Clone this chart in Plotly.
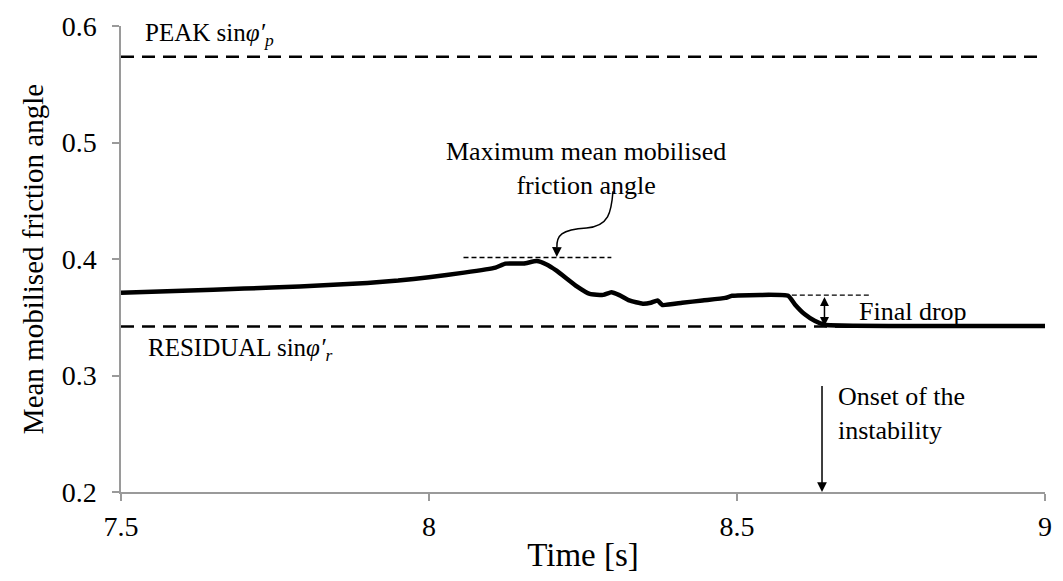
import plotly.graph_objects as go

# Mean mobilised friction angle (sin phi') over time
time_s = [7.50, 7.60, 7.70, 7.79, 7.90, 7.95, 8.00, 8.057, 8.108, 8.124, 8.154,
          8.175, 8.19, 8.207, 8.24, 8.261, 8.283, 8.296, 8.309, 8.325, 8.347,
          8.360, 8.371, 8.379, 8.411, 8.444, 8.481, 8.492, 8.583, 8.594, 8.610,
          8.626, 8.642, 8.691, 8.80, 9.00]
mobilised = [0.3710, 0.3728, 0.3746, 0.3765, 0.3795, 0.3815, 0.3844, 0.3883,
             0.3926, 0.3960, 0.3962, 0.3982, 0.3955, 0.3900, 0.3765, 0.3700,
             0.3692, 0.3715, 0.3690, 0.3644, 0.3616, 0.3624, 0.3644, 0.3605,
             0.3624, 0.3644, 0.3666, 0.3684, 0.3684, 0.3610, 0.3525, 0.3470,
             0.3436, 0.3427, 0.3425, 0.3425]

# Reference levels
peak_sin = 0.5736      # sin(35 deg)
residual_sin = 0.3420  # sin(20 deg)
max_mean = 0.4013
max_mean_span = [8.056, 8.296]
plateau = 0.3690
plateau_span = [8.589, 8.717]
drop_time = 8.642
onset_time = 8.638

x_ticks = [7.5, 8.0, 8.5, 9.0]
x_tick_text = ["7.5", "8", "8.5", "9"]
y_ticks = [0.2, 0.3, 0.4, 0.5, 0.6]
y_tick_text = ["0.2", "0.3", "0.4", "0.5", "0.6"]

FONT = "Liberation Serif, Times New Roman, serif"
AXIS_GREY = "#9a9a9a"

fig = go.Figure()

# horizontal reference lines
for level in (peak_sin, residual_sin):
    fig.add_trace(go.Scatter(x=[7.5, 9.0], y=[level, level], mode="lines",
                             line=dict(color="black", width=2.5, dash="13px,8px"),
                             hoverinfo="skip", showlegend=False))

# thin dashed guides
fig.add_trace(go.Scatter(x=max_mean_span, y=[max_mean, max_mean], mode="lines",
                         line=dict(color="black", width=1.3, dash="5px,3px"),
                         hoverinfo="skip", showlegend=False))
fig.add_trace(go.Scatter(x=plateau_span, y=[plateau, plateau], mode="lines",
                         line=dict(color="black", width=1.3, dash="5px,3px"),
                         hoverinfo="skip", showlegend=False))

# main curve
fig.add_trace(go.Scatter(x=time_s, y=mobilised, mode="lines",
                         line=dict(color="black", width=4.5, shape="spline", smoothing=0.4),
                         showlegend=False))

# curly leader from the label down to the maximum line
fig.add_shape(type="path", xref="x", yref="y",
              path="M 8.2987,0.4581 C 8.296,0.440 8.292,0.428 8.2557,0.4266 "
                   "C 8.214,0.4252 8.207,0.420 8.2076,0.4100",
              line=dict(color="black", width=1.5))

annotations = [
    # arrowhead of the curly leader
    dict(x=8.2074, y=max_mean + 0.0005, ax=8.2076, ay=0.4110, xref="x", yref="y",
         axref="x", ayref="y", text="", showarrow=True, arrowhead=2,
         arrowsize=1.3, arrowwidth=1.5, arrowcolor="black", standoff=0),
    # final drop double arrow
    dict(x=drop_time, y=residual_sin + 0.0005, ax=drop_time, ay=plateau - 0.0003,
         xref="x", yref="y", axref="x", ayref="y", text="", showarrow=True,
         arrowhead=2, startarrowhead=2, arrowside="end+start", arrowsize=1.2,
         startarrowsize=1.2, arrowwidth=1.5, arrowcolor="black", standoff=0,
         startstandoff=0),
    # onset of instability arrow
    dict(x=onset_time, y=0.2, ax=onset_time, ay=0.2923, xref="x", yref="y",
         axref="x", ayref="y", text="", showarrow=True, arrowhead=2,
         arrowsize=1.3, arrowwidth=1.5, arrowcolor="black", standoff=0),
    dict(x=7.536, y=0.5930, xref="x", yref="y", xanchor="left", yanchor="middle",
         text="PEAK sin<i>φ′<sub>p</sub></i>", showarrow=False,
         font=dict(family=FONT, size=25, color="black")),
    dict(x=7.540, y=0.3223, xref="x", yref="y", xanchor="left", yanchor="middle",
         text="RESIDUAL sin<i>φ′<sub>r</sub></i>", showarrow=False,
         font=dict(family=FONT, size=25, color="black")),
    dict(x=8.2545, y=0.4780, xref="x", yref="y", xanchor="center", yanchor="middle",
         text="Maximum mean mobilised<br>friction angle", showarrow=False,
         font=dict(family=FONT, size=26, color="black")),
    dict(x=8.6953, y=0.3548, xref="x", yref="y", xanchor="left", yanchor="middle",
         text="Final drop", showarrow=False,
         font=dict(family=FONT, size=26, color="black")),
    dict(x=8.6607, y=0.2678, xref="x", yref="y", xanchor="left", yanchor="middle",
         text="Onset of the<br>instability", showarrow=False, align="left",
         font=dict(family=FONT, size=26, color="black")),
]

fig.update_layout(
    width=1063, height=581,
    margin=dict(l=121, r=11, t=19, b=89),
    paper_bgcolor="white", plot_bgcolor="white",
    font=dict(family=FONT, color="black"),
    annotations=annotations,
    xaxis=dict(range=[7.5, 9.0], tickvals=x_ticks, ticktext=x_tick_text,
               showgrid=False, zeroline=False, showline=True, linecolor=AXIS_GREY,
               linewidth=1.5, ticks="outside", ticklen=7, tickcolor=AXIS_GREY,
               tickwidth=1.5, ticklabelstandoff=2,
               tickfont=dict(family=FONT, size=28, color="black"),
               title=dict(text="Time [s]", font=dict(family=FONT, size=33, color="black"),
                          standoff=2)),
    yaxis=dict(range=[0.2, 0.6], tickvals=y_ticks, ticktext=y_tick_text,
               showgrid=False, zeroline=False, showline=True, linecolor=AXIS_GREY,
               linewidth=1.5, ticks="outside", ticklen=7, tickcolor=AXIS_GREY,
               tickwidth=1.5, ticklabelstandoff=10,
               tickfont=dict(family=FONT, size=28, color="black"),
               title=dict(text="Mean mobilised friction angle",
                          font=dict(family=FONT, size=29, color="black"), standoff=10)),
)

fig.write_html("out.html")
